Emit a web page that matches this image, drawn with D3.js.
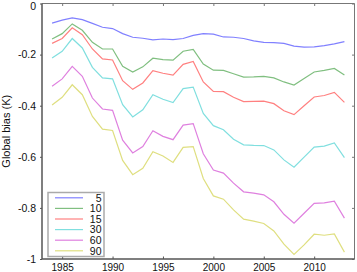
<!DOCTYPE html>
<html><head><meta charset="utf-8">
<script src="https://cdn.jsdelivr.net/npm/d3@7"></script>
<style>
html,body{margin:0;padding:0;background:#fff;}
svg{display:block;font-family:"Liberation Sans",Arial,sans-serif;}
</style></head>
<body>
<svg id="c" width="357" height="272"></svg>
<script>
const years = d3.range(1984, 2014);
const seriesNames = ["5","10","15","30","60","90"];
const s5  = [-0.077,-0.065,-0.056,-0.063,-0.078,-0.093,-0.098,-0.118,-0.132,-0.136,-0.142,-0.139,-0.141,-0.137,-0.125,-0.118,-0.120,-0.131,-0.132,-0.137,-0.146,-0.152,-0.153,-0.156,-0.167,-0.171,-0.170,-0.165,-0.158,-0.149];
const s10 = [-0.139,-0.118,-0.080,-0.105,-0.152,-0.178,-0.178,-0.246,-0.268,-0.248,-0.214,-0.220,-0.222,-0.187,-0.180,-0.237,-0.261,-0.262,-0.275,-0.288,-0.287,-0.285,-0.291,-0.307,-0.319,-0.294,-0.268,-0.262,-0.254,-0.280];
const s15 = [-0.156,-0.137,-0.095,-0.122,-0.178,-0.217,-0.221,-0.302,-0.336,-0.311,-0.263,-0.273,-0.280,-0.238,-0.227,-0.307,-0.344,-0.345,-0.367,-0.384,-0.383,-0.382,-0.392,-0.420,-0.435,-0.400,-0.366,-0.360,-0.348,-0.387];
const s30 = [-0.213,-0.187,-0.137,-0.174,-0.250,-0.291,-0.295,-0.396,-0.444,-0.416,-0.357,-0.375,-0.388,-0.333,-0.327,-0.430,-0.478,-0.494,-0.531,-0.553,-0.555,-0.556,-0.573,-0.612,-0.641,-0.601,-0.562,-0.558,-0.546,-0.603];
const s60 = [-0.324,-0.295,-0.246,-0.285,-0.370,-0.413,-0.418,-0.535,-0.585,-0.560,-0.498,-0.520,-0.533,-0.476,-0.470,-0.588,-0.652,-0.664,-0.703,-0.737,-0.742,-0.749,-0.776,-0.825,-0.860,-0.821,-0.782,-0.780,-0.774,-0.840];
const s90 = [-0.397,-0.367,-0.318,-0.357,-0.442,-0.492,-0.497,-0.614,-0.670,-0.645,-0.580,-0.597,-0.622,-0.563,-0.560,-0.685,-0.753,-0.766,-0.808,-0.844,-0.852,-0.861,-0.890,-0.942,-0.982,-0.945,-0.903,-0.907,-0.902,-0.973];
const xTicks = [1985,1990,1995,2000,2005,2010];
const yTicks = [0,-0.2,-0.4,-0.6,-0.8,-1];
const yTickLabels = ["0","-0.2","-0.4","-0.6","-0.8","-1"];
const yLabel = "Global bias (K)";
const colors = ["#8080ff","#80bf80","#ff8080","#80dfdf","#df80df","#dfdf80"];

const allSeries = [s5,s10,s15,s30,s60,s90];
const L=42, R=354.5, T=3.5, B=259;
const svg = d3.select("#c");
const x = d3.scaleLinear().domain([1983,2014]).range([L,R]);
const y = d3.scaleLinear().domain([-1,0]).range([B,T]);

// lines
const line = d3.line().x((d,i)=>x(years[i])).y(d=>y(d));
svg.append("g").selectAll("path").data(allSeries).join("path")
  .attr("d", line).attr("fill","none")
  .attr("stroke",(d,i)=>colors[i]).attr("stroke-width",1.2);

// frame: top and right
svg.append("line").attr("x1",L).attr("x2",R).attr("y1",T).attr("y2",T).attr("stroke","#777").attr("stroke-width",1);
svg.append("line").attr("x1",R).attr("x2",R).attr("y1",T).attr("y2",B).attr("stroke","#777").attr("stroke-width",1);
// top ticks and right ticks (inward)
svg.append("g").attr("transform",`translate(0,${T})`)
  .call(d3.axisBottom(x).tickValues(xTicks).tickSize(2.5).tickFormat(""))
  .call(g=>g.select(".domain").remove())
  .call(g=>g.selectAll("line").attr("stroke","#777"));
svg.append("g").attr("transform",`translate(${R},0)`)
  .call(d3.axisLeft(y).tickValues(yTicks).tickSize(2.5).tickFormat(""))
  .call(g=>g.select(".domain").remove())
  .call(g=>g.selectAll("line").attr("stroke","#777"));

// bottom axis
const xa = svg.append("g").attr("transform",`translate(0,${B})`)
  .call(d3.axisBottom(x).tickValues(xTicks).tickSize(-2.5).tickSizeOuter(0).tickPadding(5).tickFormat(d3.format("d")));
xa.select(".domain").attr("stroke","#555").attr("stroke-width",1.5).attr("d",`M${L},0H${R}`);
xa.selectAll("line").attr("stroke","#555");
xa.selectAll("text").attr("font-size","10px").attr("fill","#111").attr("font-family","'Liberation Sans',Arial,sans-serif");

// left axis
const ya = svg.append("g").attr("transform",`translate(${L},0)`)
  .call(d3.axisLeft(y).tickValues(yTicks).tickSize(2).tickSizeOuter(0).tickPadding(4).tickFormat((d,i)=>yTickLabels[i]));
ya.select(".domain").attr("stroke","#555").attr("stroke-width",1.5).attr("d",`M0,${T}V${B}`);
ya.selectAll("line").attr("stroke","#555");
ya.selectAll("text").attr("font-size","10.5px").attr("fill","#111").attr("font-family","'Liberation Sans',Arial,sans-serif")
  .attr("dy",(d)=> d===0 ? "0.55em" : "0.32em");

// y label
svg.append("text").attr("transform",`translate(9.5,${(T+B)/2}) rotate(-90)`)
  .attr("text-anchor","middle").attr("font-size","11px").attr("fill","#111").text(yLabel);

// legend
const lg = svg.append("g");
lg.append("rect").attr("x",48).attr("y",192.5).attr("width",56).attr("height",64)
  .attr("fill","#fff").attr("stroke","#aaa").attr("stroke-width",1.5);
const rowY = i => 197.8 + i*10.6;
lg.selectAll("line.l").data(seriesNames).join("line").attr("class","l")
  .attr("x1",55).attr("x2",83).attr("y1",(d,i)=>rowY(i)).attr("y2",(d,i)=>rowY(i))
  .attr("stroke",(d,i)=>colors[i]).attr("stroke-width",1.2);
lg.selectAll("text").data(seriesNames).join("text")
  .attr("x",101.5).attr("y",(d,i)=>rowY(i)).attr("dy","0.36em")
  .attr("text-anchor","end").attr("font-size","10.5px").attr("fill","#111").text(d=>d);
</script>
</body></html>
